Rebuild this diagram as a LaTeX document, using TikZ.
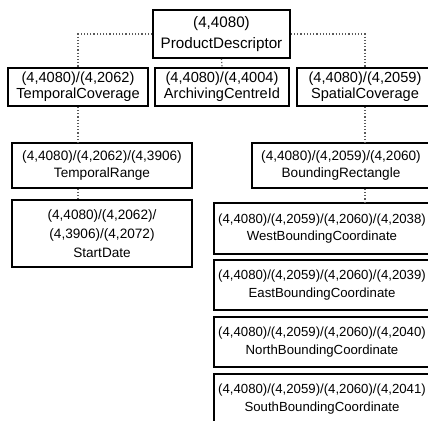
\documentclass[tikz,border=0pt]{standalone}
\usepackage{fontspec}
\setmainfont{Liberation Sans}
\usetikzlibrary{positioning}

\begin{document}
\begin{tikzpicture}[x=0.5pt, y=-0.5pt,
    every node/.style={align=center},
    elem/.style={draw=black, line width=0.8pt, inner sep=0.5pt},
    topelem/.style={elem, font=\fontsize{7.3}{7.8}\selectfont,
                    minimum height=19pt},
    midelem/.style={elem, font=\fontsize{6.8}{8.4}\selectfont,
                    minimum width=90pt, minimum height=22.5pt},
    longelem/.style={elem, font=\fontsize{6.6}{8.6}\selectfont,
                     minimum width=108pt, minimum height=25pt},
    link/.style={densely dotted, draw=black!65, line width=0.6pt}
  ]
  \clip (0,0) rectangle (428,421);

  % ---- racine ----------------------------------------------------------
  \node[elem, font=\fontsize{7.6}{10.5}\selectfont,
        minimum width=68.5pt, minimum height=24pt] (pd) at (221.5,34)
    {(4,4080)\\ProductDescriptor};

  % ---- premier niveau --------------------------------------------------
  \node[topelem, minimum width=70pt] (tc) at (78,87)
    {(4,4080)/(4,2062)\\TemporalCoverage};
  \node[topelem, minimum width=67pt] (ac) at (222,87)
    {(4,4080)/(4,4004)\\ArchivingCentreId};
  \node[topelem, minimum width=68pt] (sc) at (365,87)
    {(4,4080)/(4,2059)\\SpatialCoverage};

  % ---- branche temporelle ----------------------------------------------
  \node[midelem] (tr) at (102,165.5)
    {(4,4080)/(4,2062)/(4,3906)\\TemporalRange};
  \node[midelem, minimum height=33.5pt,
        font=\fontsize{6.8}{9.5}\selectfont] (sd) at (102,233.5)
    {(4,4080)/(4,2062)/\\(4,3906)/(4,2072)\\StartDate};

  % ---- branche spatiale ------------------------------------------------
  \node[midelem, minimum width=89pt] (br) at (341,165.5)
    {(4,4080)/(4,2059)/(4,2060)\\BoundingRectangle};
  \node[longelem, minimum height=25.5pt] (wb) at (322,228.5)
    {(4,4080)/(4,2059)/(4,2060)/(4,2038)\\WestBoundingCoordinate};
  \node[longelem] (eb) at (322,285)
    {(4,4080)/(4,2059)/(4,2060)/(4,2039)\\EastBoundingCoordinate};
  \node[longelem] (nb) at (322,342)
    {(4,4080)/(4,2059)/(4,2060)/(4,2040)\\NorthBoundingCoordinate};
  \node[longelem] (sb) at (322,399)
    {(4,4080)/(4,2059)/(4,2060)/(4,2041)\\SouthBoundingCoordinate};

  % ---- liens -----------------------------------------------------------
  \draw[link] (pd.west) -| (tc.north);
  \draw[link] (pd.east) -| (sc.north);
  \draw[link] (pd.south) -- (ac.north);
  \draw[link] (tc.south) -- (tc.south |- tr.north);
  \draw[link] (tc.south |- tr.south) -- (tc.south |- sd.north);
  \draw[link] (sc.south) -- (sc.south |- br.north);
  \draw[link] (sc.south |- br.south) -- (sc.south |- wb.north);

\end{tikzpicture}
\end{document}
